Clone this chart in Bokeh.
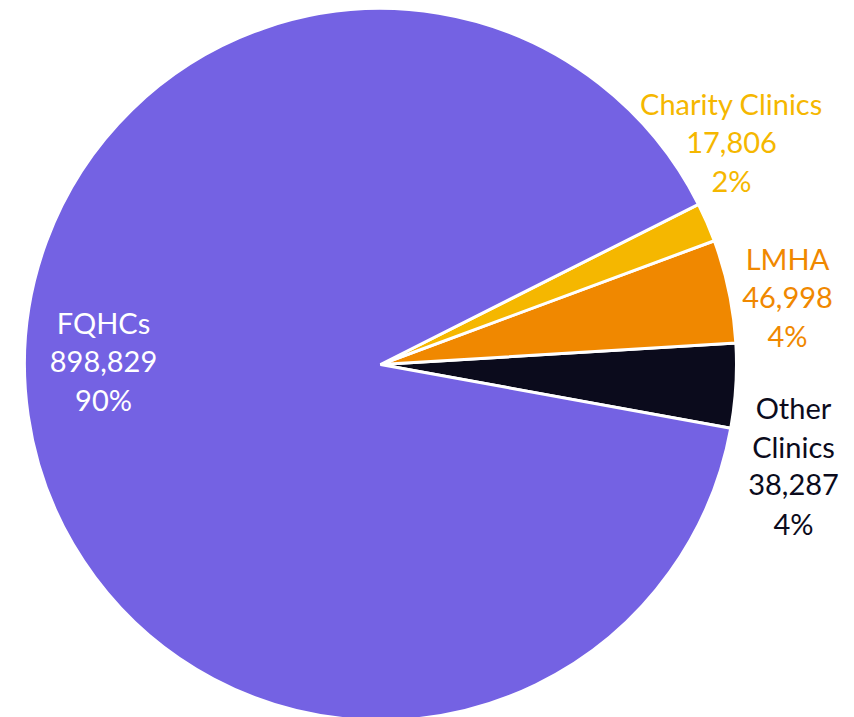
import math
from bokeh.plotting import figure
from bokeh.models import Range1d, ColumnDataSource
from bokeh.core.properties import value
from bokeh.embed import file_html
from bokeh.resources import INLINE

# data
categories = ["Other Clinics", "LMHA", "Charity Clinics", "FQHCs"]
values = [38287, 46998, 17806, 898829]
pct_labels = ["4%", "4%", "2%", "90%"]
colors = ["#0B0B1C", "#F08800", "#F5B700", "#7462E3"]
text_colors = ["#0B0B1C", "#F08800", "#F5B700", "#FFFFFF"]

W, H = 854, 717
p = figure(width=W, height=H, x_range=Range1d(0, W), y_range=Range1d(0, H),
           output_backend="svg", toolbar_location=None, min_border=0)
p.axis.visible = False
p.grid.visible = False
p.outline_line_color = None
p.background_fill_color = "white"

cx, cy, r = 380, H - 364, 356
total = sum(values)
start0 = math.radians(-10.3)
starts, ends = [], []
a = start0
for v in values:
    starts.append(a)
    a += v / total * 2 * math.pi
    ends.append(a)

src = ColumnDataSource(dict(start=starts, end=ends, color=colors))
p.wedge(x=cx, y=cy, radius=r, start_angle="start", end_angle="end",
        fill_color="color", line_color="white", line_width=3, source=src)

# label layout (pixel positions of each label block, top line center)
label_pos = {
    "Other Clinics": (793, 407),
    "LMHA": (787, 258),
    "Charity Clinics": (731, 103),
    "FQHCs": (103, 322),
}
line_gap = 38.5
xs, ys, txt, tc = [], [], [], []
for cat, v, pc, col in zip(categories, values, pct_labels, text_colors):
    lines = (["Other", "Clinics"] if cat == "Other Clinics" else [cat]) + [f"{v:,}", pc]
    x0, y0 = label_pos[cat]
    for i, ln in enumerate(lines):
        xs.append(x0)
        ys.append(H - (y0 + i * line_gap))
        txt.append(ln)
        tc.append(col)

lsrc = ColumnDataSource(dict(x=xs, y=ys, text=txt, color=tc))
p.text(x="x", y="y", text="text", text_color="color", source=lsrc,
       text_align="center", text_baseline="middle",
       text_font=value("Lato"), text_font_size="29px")

open("out.html", "w").write(file_html(p, INLINE))
